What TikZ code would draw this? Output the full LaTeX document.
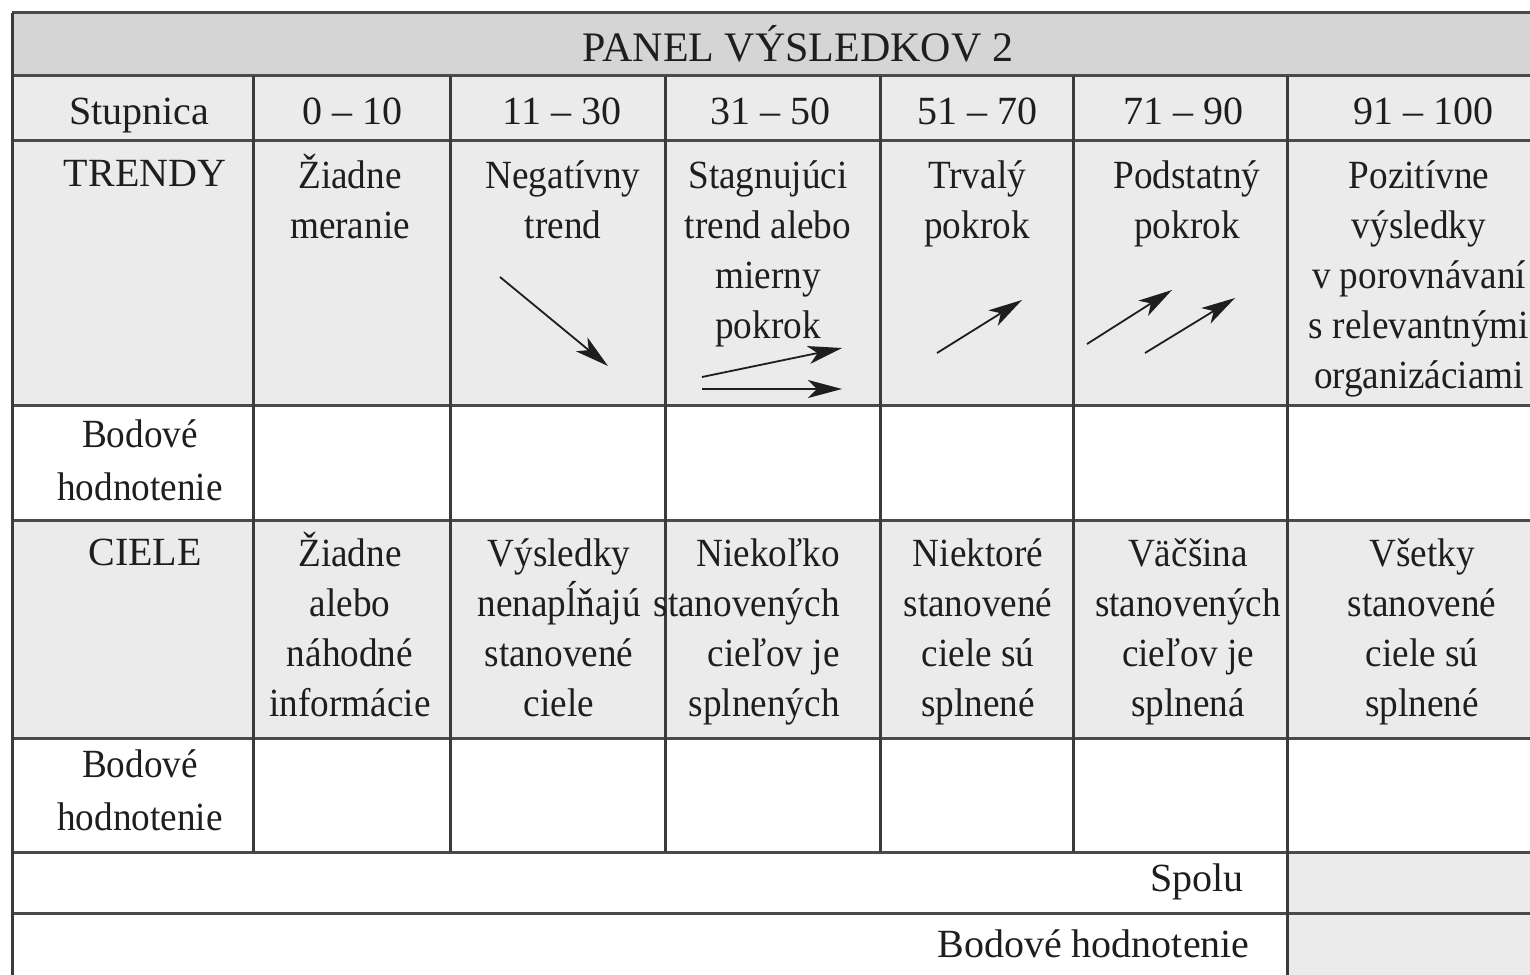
\documentclass[tikz,border=0pt]{standalone}
\usepackage{fontspec}
\setmainfont{Liberation Serif}
\newfontfamily\narrowserif[FakeStretch=0.93]{Liberation Serif}
\usetikzlibrary{arrows.meta}

\definecolor{rule}{HTML}{4A4A4A}
\definecolor{titlefill}{HTML}{D5D5D5}
\definecolor{cellfill}{HTML}{EBEBEB}
\definecolor{ink}{HTML}{1E1E1E}

% one node per text line: #1 name, #2 anchor, #3 x, #4 first line y, #5 line pitch, #6 lines
\newcommand\celllines[6]{%
  \foreach \t [count=\i] in {#6}
    \node[cell, anchor=#2, name=#1-\i] at (#3, {#4+(\i-1)*#5}) {\t};}

\begin{document}
\begin{tikzpicture}[x=0.5pt, y=-0.5pt,
  txt/.style={inner sep=0pt, text=ink, font=\fontsize{20}{24}\selectfont},
  cell/.style={txt, font=\narrowserif\fontsize{20}{24}\selectfont},
  hrule/.style={draw=rule, line width=1.5pt},
  vrule/.style={draw=rule!80!black, line width=1.5pt},
  arr/.style={draw=ink, line width=0.9pt, -{Stealth[length=17pt, width=9pt, inset=4.5pt]}}]
\useasboundingbox (0,0) rectangle (1530,974);
\clip (0,0) rectangle (1530,974);

% shaded bands
\fill[titlefill] (12,13) rectangle (1600,76);
\fill[cellfill] (12,76) rectangle (1600,405);
\fill[cellfill] (12,520) rectangle (1600,738);
\fill[cellfill] (1287,852) rectangle (1600,1000);

% horizontal rules
\foreach \yy in {13,76,140,405,520,738,852,913}
  \draw[hrule] (12,\yy) -- (1600,\yy);
% outer left edge
\draw[vrule] (12,13) -- (12,1000);
% column rules
\foreach \xx in {253,450,665,880,1073}
  \draw[vrule] (\xx,76) -- (\xx,852);
\draw[vrule] (1287,76) -- (1287,1000);

% title
\node[txt, anchor=mid, font=\fontsize{21}{25}\selectfont] (title) at (798,57) {PANEL VÝSLEDKOV 2};

% scale header
\begin{scope}[every node/.append style={font=\fontsize{21}{25}\selectfont}]
\node[txt, anchor=mid] (h0) at (139,120) {Stupnica};
\node[txt, anchor=mid] (h1) at (352,120) {0 – 10};
\node[txt, anchor=mid] (h2) at (562,120) {11 – 30};
\node[txt, anchor=mid] (h3) at (770,120) {31 – 50};
\node[txt, anchor=mid] (h4) at (977,120) {51 – 70};
\node[txt, anchor=mid] (h5) at (1183,120) {71 – 90};
\node[txt, anchor=mid] (h6) at (1423,120) {91 – 100};
\end{scope}

% trends row
\node[txt, anchor=mid] (trendy) at (145,182) {TRENDY};
\celllines{t1}{mid}{350}{184}{50}{Žiadne,meranie}
\celllines{t2}{mid}{563}{184}{50}{Negatívny,trend}
\celllines{t3}{mid}{768}{184}{50}{Stagnujúci,trend alebo,mierny,pokrok}
\celllines{t4}{mid}{977}{184}{50}{Trvalý,pokrok}
\celllines{t5}{mid}{1187}{184}{50}{Podstatný,pokrok}
\celllines{t6}{mid}{1419}{184}{50}{Pozitívne,výsledky,v porovnávaní,s relevantnými,organizáciami}

% trend arrows
\draw[arr] (500,277) -- (608,366);
\draw[arr] (702,377) -- (842,348);
\draw[arr] (702,389) -- (842,389);
\draw[arr] (937,353) -- (1022,300);
\draw[arr] (1087,344) -- (1172,290);
\draw[arr] (1145,353) -- (1235,298);

% score row after trends
\celllines{b1}{mid}{140}{443}{53}{Bodové,hodnotenie}

% goals row
\node[txt, anchor=mid] (ciele) at (145,561) {CIELE};
\celllines{c1}{mid}{350}{562}{50}{Žiadne,alebo,náhodné,informácie}
\celllines{c2}{mid}{559}{562}{50}{Výsledky,nenapĺňajú,stanovené,ciele}
\celllines{c3}{mid east}{840}{562}{50}{Niekoľko,stanovených,cieľov je,splnených}
\celllines{c4}{mid}{978}{562}{50}{Niektoré,stanovené,ciele sú,splnené}
\celllines{c5}{mid}{1188}{562}{50}{Väčšina,stanovených,cieľov je,splnená}
\celllines{c6}{mid}{1422}{562}{50}{Všetky,stanovené,ciele sú,splnené}

% score row after goals
\celllines{b2}{mid}{140}{773}{53}{Bodové,hodnotenie}

% totals
\node[txt, anchor=mid east] (spolu) at (1244,887) {Spolu};
\node[txt, anchor=mid east] (total) at (1250,953) {Bodové hodnotenie};
\end{tikzpicture}
\end{document}
